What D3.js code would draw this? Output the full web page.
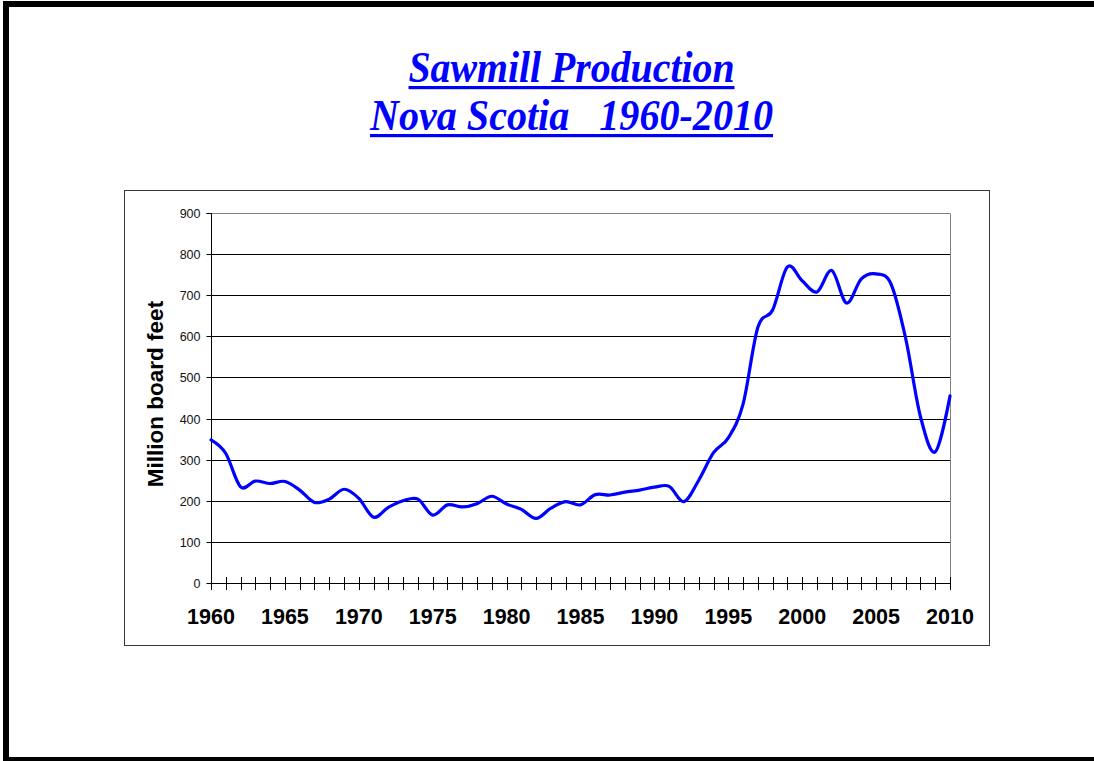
<!DOCTYPE html>
<html>
<head>
<meta charset="utf-8">
<script src="https://cdn.jsdelivr.net/npm/d3@7"></script>
<style>
  html, body { margin: 0; padding: 0; background: #fff; }
  svg { display: block; }
</style>
</head>
<body>
<svg id="chart" width="1094" height="761"></svg>
<script>
// ---- Data ----
const years = d3.range(1960, 2011);
const production = [
  348, 315, 234, 248, 242, 247, 226, 196, 204, 228,
  206, 160, 184, 200, 204, 165, 190, 185, 193, 211,
  192, 179, 157, 182, 198, 190, 215, 214, 221, 226,
  233, 235, 198, 250, 317, 353, 435, 622, 664, 769,
  735, 708, 760, 681, 740, 752, 728, 595, 405, 319,
  455
];
const yTicks = [0, 100, 200, 300, 400, 500, 600, 700, 800, 900];
const xLabelYears = [1960, 1965, 1970, 1975, 1980, 1985, 1990, 1995, 2000, 2005, 2010];
const titleLines = ["Sawmill Production", "Nova Scotia   1960-2010"];
const yAxisTitle = "Million board feet";

// ---- Layout ----
const svg = d3.select("#chart");
const plot = { left: 211, right: 950, top: 213, bottom: 583 };

// page frame
svg.append("rect")
  .attr("x", 6).attr("y", 4).attr("width", 1200).attr("height", 756)
  .attr("fill", "none").attr("stroke", "#000").attr("stroke-width", 6);

// titles
const titleCfg = [
  { baseline: 82, width: 326 },
  { baseline: 130, width: 403 }
];
titleLines.forEach((t, i) => {
  const cx = 571.5;
  svg.append("text")
    .attr("x", cx).attr("y", titleCfg[i].baseline)
    .attr("text-anchor", "middle")
    .attr("font-family", "'Liberation Serif', 'Times New Roman', serif")
    .attr("font-weight", "bold").attr("font-style", "italic")
    .attr("font-size", 44)
    .attr("fill", "#0000FF")
    .attr("xml:space", "preserve")
    .style("white-space", "pre")
    .attr("textLength", titleCfg[i].width)
    .attr("lengthAdjust", "spacingAndGlyphs")
    .text(t);
  svg.append("rect")
    .attr("x", cx - titleCfg[i].width / 2)
    .attr("y", titleCfg[i].baseline + 4)
    .attr("width", titleCfg[i].width)
    .attr("height", 3.2)
    .attr("fill", "#0000FF");
});

// chart box
svg.append("rect")
  .attr("x", 124.5).attr("y", 190.5).attr("width", 865).attr("height", 455)
  .attr("fill", "#fff").attr("stroke", "#3a3a3a").attr("stroke-width", 1);

// scales
const x = d3.scaleLinear().domain([1960, 2010]).range([plot.left, plot.right]);
const y = d3.scaleLinear().domain([0, 900]).range([plot.bottom, plot.top]);

// gridlines
svg.append("g").selectAll("line")
  .data(yTicks.filter(d => d > 0))
  .join("line")
  .attr("x1", plot.left).attr("x2", plot.right)
  .attr("y1", d => Math.round(y(d)) + 0.5).attr("y2", d => Math.round(y(d)) + 0.5)
  .attr("stroke", d => d === 900 ? "#808080" : "#000")
  .attr("stroke-width", 1);

// plot area right border
svg.append("line")
  .attr("x1", plot.right + 0.5).attr("x2", plot.right + 0.5)
  .attr("y1", Math.round(y(900)) + 0.5).attr("y2", plot.bottom)
  .attr("stroke", "#808080").attr("stroke-width", 1);

// y axis
const yAxis = d3.axisLeft(y).tickValues(yTicks).tickSize(5).tickPadding(6);
const gy = svg.append("g")
  .attr("transform", `translate(${plot.left + 0.5},0.5)`)
  .call(yAxis);
gy.selectAll("path,line").attr("stroke", "#000");
gy.select(".domain").attr("d", `M-5,${Math.round(y(900))}H0V${Math.round(y(0))}`);
gy.selectAll("text")
  .attr("font-family", "'Liberation Sans', Arial, sans-serif")
  .attr("font-size", 12.5)
  .attr("fill", "#111");
gy.selectAll(".tick").attr("transform", d => `translate(0,${Math.round(y(d))})`);

// x axis line + crossing ticks
const gx = svg.append("g");
gx.append("line")
  .attr("x1", plot.left).attr("x2", plot.right + 1)
  .attr("y1", Math.round(y(0)) + 0.5).attr("y2", Math.round(y(0)) + 0.5)
  .attr("stroke", "#000");
gx.selectAll("line.tk")
  .data(years)
  .join("line").attr("class", "tk")
  .attr("x1", d => Math.round(x(d)) + 0.5).attr("x2", d => Math.round(x(d)) + 0.5)
  .attr("y1", Math.round(y(0)) - 6).attr("y2", Math.round(y(0)) + 7)
  .attr("stroke", "#000");
gx.selectAll("text")
  .data(xLabelYears)
  .join("text")
  .attr("x", d => x(d)).attr("y", 624)
  .attr("text-anchor", "middle")
  .attr("font-family", "'Liberation Sans', Arial, sans-serif")
  .attr("font-weight", "bold").attr("font-size", 21.5)
  .attr("fill", "#000")
  .text(d => d);

// y axis title
svg.append("text")
  .attr("transform", `translate(163,${(plot.top + plot.bottom) / 2 - 4}) rotate(-90)`)
  .attr("text-anchor", "middle")
  .attr("font-family", "'Liberation Sans', Arial, sans-serif")
  .attr("font-weight", "bold").attr("font-size", 22.5)
  .attr("fill", "#000")
  .text(yAxisTitle);

// line
const line = d3.line()
  .x((d, i) => x(years[i]))
  .y(d => y(d))
  .curve(d3.curveCatmullRom.alpha(0));
svg.append("path")
  .datum(production)
  .attr("d", line)
  .attr("fill", "none")
  .attr("stroke", "#0000FF")
  .attr("stroke-width", 3.2)
  .attr("stroke-linejoin", "round")
  .attr("stroke-linecap", "round");
</script>
</body>
</html>
